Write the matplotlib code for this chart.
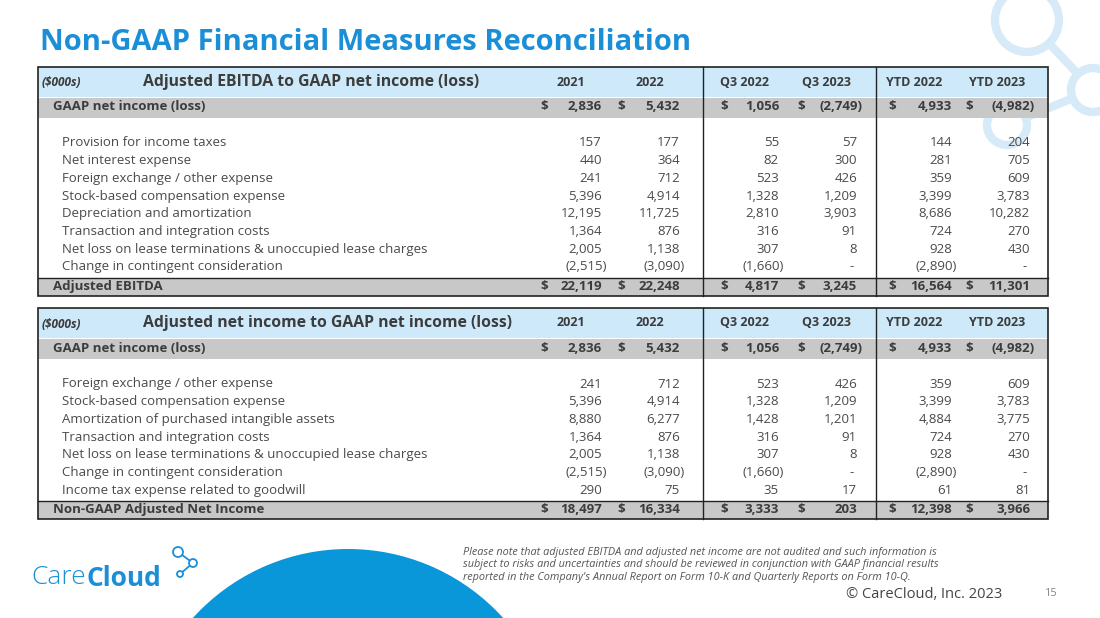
import matplotlib.pyplot as plt
from matplotlib.patches import Rectangle, Circle

plt.rcParams['font.family'] = ['Open Sans', 'DejaVu Sans']

columns = ["2021", "2022", "Q3 2022", "Q3 2023", "YTD 2022", "YTD 2023"]

ebitda_gaap = ["2,836", "5,432", "1,056", "(2,749)", "4,933", "(4,982)"]
ebitda_labels = [
    "Provision for income taxes",
    "Net interest expense",
    "Foreign exchange / other expense",
    "Stock-based compensation expense",
    "Depreciation and amortization",
    "Transaction and integration costs",
    "Net loss on lease terminations & unoccupied lease charges",
    "Change in contingent consideration",
]
ebitda_values = [
    ["157", "177", "55", "57", "144", "204"],
    ["440", "364", "82", "300", "281", "705"],
    ["241", "712", "523", "426", "359", "609"],
    ["5,396", "4,914", "1,328", "1,209", "3,399", "3,783"],
    ["12,195", "11,725", "2,810", "3,903", "8,686", "10,282"],
    ["1,364", "876", "316", "91", "724", "270"],
    ["2,005", "1,138", "307", "8", "928", "430"],
    ["(2,515)", "(3,090)", "(1,660)", "-", "(2,890)", "-"],
]
ebitda_total = ["22,119", "22,248", "4,817", "3,245", "16,564", "11,301"]

net_gaap = ["2,836", "5,432", "1,056", "(2,749)", "4,933", "(4,982)"]
net_labels = [
    "Foreign exchange / other expense",
    "Stock-based compensation expense",
    "Amortization of purchased intangible assets",
    "Transaction and integration costs",
    "Net loss on lease terminations & unoccupied lease charges",
    "Change in contingent consideration",
    "Income tax expense related to goodwill",
]
net_values = [
    ["241", "712", "523", "426", "359", "609"],
    ["5,396", "4,914", "1,328", "1,209", "3,399", "3,783"],
    ["8,880", "6,277", "1,428", "1,201", "4,884", "3,775"],
    ["1,364", "876", "316", "91", "724", "270"],
    ["2,005", "1,138", "307", "8", "928", "430"],
    ["(2,515)", "(3,090)", "(1,660)", "-", "(2,890)", "-"],
    ["290", "75", "35", "17", "61", "81"],
]
net_total = ["18,497", "16,334", "3,333", "203", "12,398", "3,966"]

TXT = "#3c3c3c"
BLUE = "#1a8fd8"
FS = 9.5
num_right = [602, 680, 779, 857, 952, 1030]
dollar_x = [540, 617, 720, 797, 888, 965]
head_x = [571, 650, 745, 826, 914, 997]


def num_x(v, i):
    # parenthesised negatives hang past the column edge
    return num_right[i] + (5 if v.startswith("(") else 0)


def draw_table(ax, top, title, gaap, labels, values, total_label, total):
    left, right = 38, 1048
    ax.add_patch(Rectangle((left, top), right - left, 30, color="#cde9fa", lw=0))
    ax.add_patch(Rectangle((left, top + 31), right - left, 20, color="#c8c8c8", lw=0))
    rows_top = top + 70
    step = 17.7
    tot_y = rows_top + step * len(labels) - 1
    ax.add_patch(Rectangle((left, tot_y), right - left, 18, color="#c8c8c8", lw=0))
    bottom = tot_y + 18
    ax.add_patch(Rectangle((left, top), right - left, bottom - top, fill=False,
                           ec="#222222", lw=1.2))
    ax.plot([left, right], [tot_y, tot_y], color="#222222", lw=1)
    for vx in (703, 876):
        ax.plot([vx, vx], [top, bottom], color="#222222", lw=1)

    ax.text(42, top + 16, "($000s)", fontsize=8.5, style="italic", weight="bold",
            color=TXT, va="center")
    ax.text(143, top + 15, title, fontsize=11.3, weight="bold", color=TXT, va="center")
    for i, c in enumerate(columns):
        ax.text(head_x[i], top + 15, c, fontsize=9, weight="bold", color=TXT,
                ha="center", va="center")

    def money_row(y, name, vals):
        ax.text(53, y, name, fontsize=FS, weight="bold", color=TXT, va="center")
        for i, v in enumerate(vals):
            ax.text(dollar_x[i], y, "$", fontsize=FS, weight="bold", color=TXT,
                    va="center")
            ax.text(num_x(v, i), y, v, fontsize=FS, weight="bold", color=TXT,
                    ha="right", va="center")

    money_row(top + 40, "GAAP net income (loss)", gaap)
    for r, (name, vals) in enumerate(zip(labels, values)):
        y = rows_top + step * r + 6
        ax.text(62, y, name, fontsize=FS, color="#4a4a4a", va="center")
        for i, v in enumerate(vals):
            ax.text(num_x(v, i) - (3 if v == "-" else 0), y, v, fontsize=FS,
                    color="#4a4a4a", ha="right", va="center")
    money_row(tot_y + 9, total_label, total)


fig = plt.figure(figsize=(11, 6.18), dpi=100)
ax = fig.add_axes([0, 0, 1, 1])
ax.set_xlim(0, 1100)
ax.set_ylim(618, 0)
ax.axis("off")

# background decorations
light = "#d6eaf7"
ax.plot([1027, 1093], [20, 90], color=light, lw=6, zorder=0)
ax.plot([1007, 1093], [125, 90], color=light, lw=6, zorder=0)
ax.add_patch(Circle((1027, 20), 32, color="white", ec=light, lw=6, zorder=0.5))
ax.add_patch(Circle((1093, 90), 22, color="white", ec=light, lw=6, zorder=0.5))
ax.add_patch(Circle((1007, 125), 20, color="white", ec=light, lw=6, zorder=0.5))
ax.add_patch(Circle((348, 758), 209, color="#0a97d9", lw=0, zorder=0))

ax.text(40, 42, "Non-GAAP Financial Measures Reconciliation", fontsize=21,
        weight="bold", color=BLUE, va="center")

draw_table(ax, 67, "Adjusted EBITDA to GAAP net income (loss)", ebitda_gaap,
           ebitda_labels, ebitda_values, "Adjusted EBITDA", ebitda_total)
draw_table(ax, 308, "Adjusted net income to GAAP net income (loss)", net_gaap,
           net_labels, net_values, "Non-GAAP Adjusted Net Income", net_total)

ax.text(31, 578, "Care", fontsize=19, color=BLUE, va="center", weight="light")
ax.text(86, 578, "Cloud", fontsize=19, color=BLUE, weight="bold", va="center")
ax.plot([178, 193, 180], [552, 563, 574], color=BLUE, lw=1.3)
for cx, cy, r in [(178, 552, 5), (193, 563, 4), (180, 574, 3)]:
    ax.add_patch(Circle((cx, cy), r, color="white", ec=BLUE, lw=1.3, zorder=3))

ax.text(463, 565, "Please note that adjusted EBITDA and adjusted net income are not audited and such information is\n"
        "subject to risks and uncertainties and should be reviewed in conjunction with GAAP financial results\n"
        "reported in the Company's Annual Report on Form 10-K and Quarterly Reports on Form 10-Q.",
        fontsize=7.8, style="italic", color="#555555", va="center", linespacing=1.2)
ax.text(1002, 594, "© CareCloud, Inc. 2023", fontsize=10.5, color="#444444",
        ha="right", va="center")
ax.text(1050, 594, "15", fontsize=8, color="#888888", ha="center", va="center")

fig.savefig("out.png", dpi=100)
